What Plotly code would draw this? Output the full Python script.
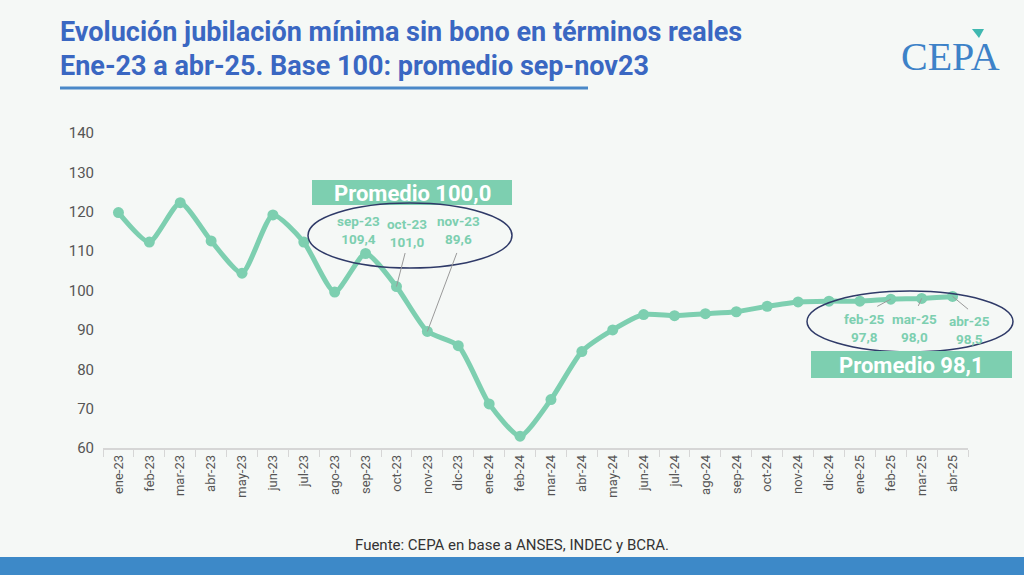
import plotly.graph_objects as go

meses = ['ene-23', 'feb-23', 'mar-23', 'abr-23', 'may-23', 'jun-23', 'jul-23',
         'ago-23', 'sep-23', 'oct-23', 'nov-23', 'dic-23', 'ene-24', 'feb-24',
         'mar-24', 'abr-24', 'may-24', 'jun-24', 'jul-24', 'ago-24', 'sep-24',
         'oct-24', 'nov-24', 'dic-24', 'ene-25', 'feb-25', 'mar-25', 'abr-25']
indice = [119.8, 112.3, 122.3, 112.6, 104.4, 119.2, 112.3,
          99.6, 109.4, 101.0, 89.6, 86.0, 71.2, 63.0,
          72.3, 84.5, 90.0, 93.9, 93.6, 94.1, 94.6,
          96.0, 97.1, 97.3, 97.3, 97.8, 98.0, 98.5]

detalle_ini = ['sep-23', 'oct-23', 'nov-23']
detalle_fin = ['feb-25', 'mar-25', 'abr-25']
textos_ini = ['109,4', '101,0', '89,6']
textos_fin = ['97,8', '98,0', '98,5']

VERDE = '#7dcfb0'
AZUL = '#3a67c2'
GRIS = '#555555'
FONDO = '#f5f8f6'

# plot area in pixels (used to place the decorative bits)
L, R, T, B = 103, 968, 133, 448


def px(x):
    return (x - L) / (R - L)


def py(y):
    return (B - y) / (B - T)


def nota(x, y, text, size, color, family='Roboto', xanchor='center'):
    return dict(xref='paper', yref='paper', x=px(x), y=py(y), xanchor=xanchor,
                yanchor='middle', showarrow=False, text=text,
                font=dict(family=family, size=size, color=color))


fig = go.Figure()
fig.add_trace(go.Scatter(
    x=meses, y=indice, mode='lines+markers',
    line=dict(color=VERDE, width=5, shape='spline', smoothing=0.6),
    marker=dict(color=VERDE, size=11),
    hoverinfo='x+y', showlegend=False
))

anns = []
shapes = []

# titulo
anns.append(nota(58, 32, '<b>Evolución jubilación mínima sin bono en términos reales</b>',
                 27, AZUL, xanchor='left'))
anns.append(nota(58, 66, '<b>Ene-23 a abr-25. Base 100: promedio sep-nov23</b>',
                 27, AZUL, xanchor='left'))
shapes.append(dict(type='line', xref='paper', yref='paper',
                   x0=px(60), x1=px(588), y0=py(88), y1=py(88),
                   line=dict(color='#4a88c8', width=3)))

# logo
anns.append(nota(950, 56, 'CEPA', 40, '#3d82c8', family='Liberation Serif'))
shapes.append(dict(type='path', xref='paper', yref='paper',
                   path='M %f %f L %f %f L %f %f Z' % (px(972), py(29), px(984), py(29),
                                                       px(979), py(38)),
                   fillcolor='#3fb8b0', line=dict(width=0)))

# fuente
anns.append(nota(512, 545, 'Fuente: CEPA en base a ANSES, INDEC y BCRA.', 15, '#333333'))
shapes.append(dict(type='rect', xref='paper', yref='paper',
                   x0=px(-5), x1=px(1030), y0=py(557), y1=py(580),
                   fillcolor='#3d89c8', line=dict(width=0), layer='below'))

# bloque sep-nov 23
shapes.append(dict(type='rect', xref='paper', yref='paper',
                   x0=px(312), x1=px(512), y0=py(180), y1=py(205),
                   fillcolor=VERDE, line=dict(width=0)))
anns.append(nota(412, 193, '<b>Promedio 100,0</b>', 22, 'white'))
shapes.append(dict(type='circle', xref='paper', yref='paper',
                   x0=px(308), x1=px(512), y0=py(203), y1=py(268),
                   line=dict(color='#2f3a68', width=1.5)))
for m, t, xx, yy in zip(detalle_ini, textos_ini, [358, 407, 458], [230, 233, 230]):
    anns.append(nota(xx, yy, '<b>%s<br>%s</b>' % (m, t), 13.5, VERDE))

# bloque feb-abr 25
shapes.append(dict(type='circle', xref='paper', yref='paper',
                   x0=px(807), x1=px(1013), y0=py(291), y1=py(352),
                   line=dict(color='#2f3a68', width=1.5)))
shapes.append(dict(type='rect', xref='paper', yref='paper',
                   x0=px(811), x1=px(1012), y0=py(351), y1=py(378),
                   fillcolor=VERDE, line=dict(width=0)))
anns.append(nota(911, 365, '<b>Promedio 98,1</b>', 22, 'white'))
for m, t, xx, yy in zip(detalle_fin, textos_fin, [864, 914, 969], [328, 328, 330]):
    anns.append(nota(xx, yy, '<b>%s<br>%s</b>' % (m, t), 13.5, VERDE))

# lineas guia
guias = [('oct-23', 9, -35), ('nov-23', 30, -80),
         ('feb-25', -15, 8), ('mar-25', -4, 9), ('abr-25', 17, 14)]
for m, ax, ay in guias:
    anns.append(dict(x=m, y=indice[meses.index(m)], xref='x', yref='y', text='',
                     showarrow=True, arrowhead=0, arrowwidth=1, arrowcolor='#999999',
                     ax=ax, ay=ay, standoff=0, startstandoff=0))

fig.update_layout(
    width=1024, height=575,
    margin=dict(l=L, r=1024 - R, t=T, b=575 - B),
    paper_bgcolor=FONDO, plot_bgcolor=FONDO,
    font=dict(family='Roboto', color=GRIS),
    annotations=anns, shapes=shapes,
    xaxis=dict(type='category', tickangle=-90, showgrid=False, showline=True,
               linecolor='#d6d6d6', linewidth=1.5, ticks='outside', tickson='boundaries',
               ticklen=7, tickcolor='#d6d6d6', tickfont=dict(size=13, color=GRIS),
               range=[-0.5, len(meses) - 0.5], fixedrange=True),
    yaxis=dict(range=[60, 140], dtick=10, showgrid=False, showline=False,
               zeroline=False, ticks='', ticklabelstandoff=8,
               tickfont=dict(size=15, color=GRIS), fixedrange=True),
)

fig.write_html('out.html', config={'displayModeBar': False},
               post_script="document.body.style.margin='0';"
                           "document.body.style.background='%s';" % FONDO)
